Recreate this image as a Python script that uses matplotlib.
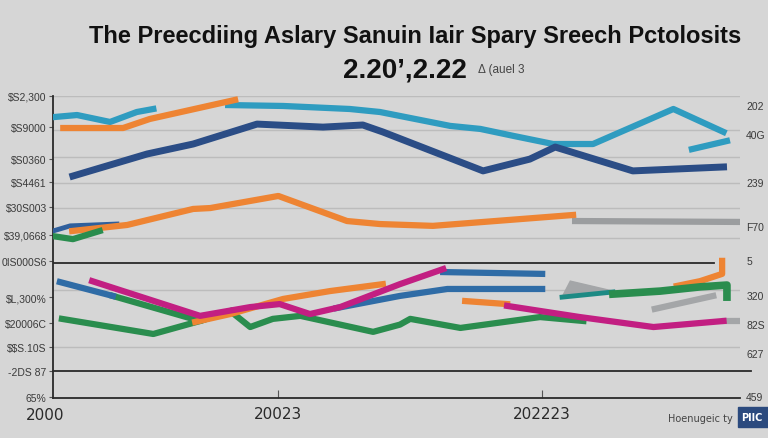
import matplotlib.pyplot as plt
from matplotlib.patches import Rectangle
import numpy as np

plt.rcParams['text.parse_math'] = False

nan = np.nan

# series values (0-100 scale)
navy_x = [2.9, 13.7, 20.4, 29.7, 39.3, 45.1, 48.0, 62.6, 69.4, 73.1, 84.4, 97.6]
navy_y = [73.5, 80.8, 84.1, 90.7, 89.7, 90.4, 88.1, 75.2, 79.1, 83.1, 75.2, 76.5]

teal_x = [0, 3.5, 8.3, 12.2, 14.6, nan, 25.5, 33.5, 43.2, 47.6, 57.8, 62.2, 67.0, 72.8, 78.6, 90.3, 97.6, nan, 93.0, 98.1]
teal_y = [93.0, 93.7, 91.4, 94.7, 95.7, nan, 97.0, 96.7, 95.7, 94.7, 90.1, 89.1, 86.8, 84.1, 84.1, 95.7, 88.1, nan, 82.4, 85.1]

orange_top_x = [1.5, 10.2, 14.1, 26.5]
orange_top_y = [89.4, 89.4, 92.4, 98.7]

orange_mid_x = [2.8, 10.8, 20.4, 22.9, 32.8, 42.8, 47.6, 55.3, 75.7]
orange_mid_y = [55.3, 57.3, 62.6, 62.9, 66.9, 58.6, 57.6, 57.0, 60.6]

grey_mid_x = [76.0, 99.6]
grey_mid_y = [58.6, 58.3]

green_small_x = [0, 2.9, 6.8]
green_small_y = [53.6, 52.6, 55.3]
blue_small_x = [0, 2.5, 9.3]
blue_small_y = [55.3, 57.0, 57.6]

magenta_x = [5.7, 21.4, 28.7, 33.0, 37.4, 41.8, 50.5, 56.8, nan, 66.1, 76.7, 87.4, 97.6]
magenta_y = [38.7, 27.2, 30.1, 31.1, 27.8, 30.1, 37.7, 42.7, nan, 30.5, 26.8, 23.5, 25.5]

blue_up_x = [56.8, 71.2]
blue_up_y = [41.7, 41.1]
blue_low_x = [1.0, 8.7, nan, 41.3, 50.5, 57.4, 71.2]
blue_low_y = [38.4, 33.8, nan, 29.8, 33.8, 36.1, 36.1]

orange_low_x = [20.7, 25.8, 33.5, 40.3, 48.0, nan, 60.0, 66.1]
orange_low_y = [25.2, 27.8, 32.8, 35.4, 37.7, nan, 32.1, 31.1]

green_low_x = [1.3, 14.6, 21.4, 25.8, 28.7, 32.0, 36.0, 46.6, 50.5, 52.0, 59.3, 70.9, 77.2]
green_low_y = [26.2, 21.2, 25.5, 28.8, 23.5, 26.2, 27.2, 21.9, 24.3, 26.2, 23.2, 26.8, 25.5]
green_diag_x = [8.7, 21.4, 25.8]
green_diag_y = [33.8, 25.5, 28.8]

green_right_x = [81.5, 88.4, 94.2, 98.1, 98.1]
green_right_y = [34.4, 35.4, 36.8, 37.4, 33.4]
orange_right_x = [90.8, 94.2, 97.4, 97.4]
orange_right_y = [37.1, 38.7, 41.1, 45.4]
grey_right_x = [87.6, 96.1, nan, 97.8, 99.6]
grey_right_y = [29.5, 33.8, nan, 25.5, 25.5]
tealdark_x = [74.1, 81.5]
tealdark_y = [33.4, 35.1]
grey_tri_x = [74.1, 75.3, 81.5]
grey_tri_y = [33.4, 38.7, 35.4]

grid_y = [100, 88.7, 79.8, 71.2, 62.9, 53.0, 35.8, 16.9]
left_pos = [100, 89.7, 79.1, 71.5, 63.2, 54.0, 45.4, 33.4, 24.8, 16.9, 8.9, 0.3]
left_labels = ["$S2,300", "$S9000", "$S0360", "$S4461", "$30S003", "$39,0668",
               "0IS000S6", "$L,300%", "$20006C", "$$S.10S", "-2DS 87", "65%"]
right_pos = [96.7, 87.1, 71.2, 56.6, 45.4, 33.8, 24.2, 14.6, 0.3]
right_labels = ["202", "40G", "239", "F70", "5", "320", "82S", "627", "459"]
x_pos = [32.8, 71.2]
x_labels = ["20023", "202223"]

bg = '#d6d6d6'
fig = plt.figure(figsize=(7.68, 4.39), dpi=100, facecolor=bg)
ax = fig.add_axes([53/768, 40/439, 687/768, 302/439], facecolor=bg)
ax.set_xlim(0, 100)
ax.set_ylim(0, 100)

for g in grid_y:
    ax.axhline(g, color='#bcbcbc', lw=1, zorder=1)
ax.plot([0, 96.2], [44.7, 44.7], color='#2a2a2a', lw=1.3, zorder=2)
ax.plot([0, 101.6], [8.9, 8.9], color='#2a2a2a', lw=1.3, zorder=2, clip_on=False)

lw = 4.5
ax.fill(grey_tri_x, grey_tri_y, color='#a4a6a8', zorder=3)
ax.plot(grey_mid_x, grey_mid_y, color='#9b9d9f', lw=lw, zorder=3)
ax.plot(grey_right_x, grey_right_y, color='#a4a6a8', lw=lw, zorder=3)
ax.plot(teal_x, teal_y, color='#2f9cc0', lw=lw, zorder=4)
ax.plot(navy_x, navy_y, color='#2b4d86', lw=lw + 0.5, zorder=4)
ax.plot(orange_top_x, orange_top_y, color='#ee8433', lw=lw, zorder=5)
ax.plot(orange_mid_x, orange_mid_y, color='#ee8433', lw=lw, zorder=4)
ax.plot(green_small_x, green_small_y, color='#2a8d4e', lw=lw, zorder=4)
ax.plot(blue_small_x, blue_small_y, color='#2f5f9c', lw=lw - 1, zorder=3)
ax.plot(green_low_x, green_low_y, color='#2a8d4e', lw=lw, zorder=4)
ax.plot(green_diag_x, green_diag_y, color='#2a8d4e', lw=lw, zorder=4)
ax.plot(blue_low_x, blue_low_y, color='#2f6ca6', lw=lw, zorder=5)
ax.plot(blue_up_x, blue_up_y, color='#2f6ca6', lw=lw, zorder=5)
ax.plot(orange_low_x, orange_low_y, color='#ee8433', lw=lw, zorder=5)
ax.plot(magenta_x, magenta_y, color='#c21f82', lw=lw, zorder=6)
ax.plot(tealdark_x, tealdark_y, color='#1d8a84', lw=lw - 1, zorder=5)
ax.plot(orange_right_x, orange_right_y, color='#ee8433', lw=lw, zorder=5)
ax.plot(green_right_x, green_right_y, color='#2a8d4e', lw=lw + 1, zorder=6)

for s in ['top', 'right']:
    ax.spines[s].set_visible(False)
ax.spines['left'].set_color('#2a2a2a')
ax.spines['bottom'].set_color('#2a2a2a')
ax.spines['left'].set_linewidth(1.3)
ax.spines['bottom'].set_linewidth(1.3)

ax.set_yticks(left_pos)
ax.set_yticklabels(left_labels, fontsize=7.5, color='#3a3a3a', family='Liberation Sans')
ax.tick_params(axis='y', length=3, color='#555555', pad=1.5)
ax.set_xticks(x_pos)
ax.set_xticklabels(x_labels, fontsize=11, color='#2a2a2a')
ax.tick_params(axis='x', direction='in', length=6, color='#555555', pad=6)
ax.text(-1.2, -0.03, "2000", transform=ax.get_xaxis_transform(), fontsize=11,
        color='#2a2a2a', ha='center', va='top')

for p, lab in zip(right_pos, right_labels):
    ax.text(1.009, p, lab, transform=ax.get_yaxis_transform(), fontsize=7.5,
            color='#3a3a3a', ha='left', va='center', family='Liberation Sans')

fig.text(415/768, 1 - 37/439, "The Preecdiing Aslary Sanuin Iair Spary Sreech Pctolosits",
         fontsize=17, fontweight='bold', ha='center', va='center', color='#111111',
         family=['Liberation Sans'])
fig.text(405/768, 1 - 70/439, "2.20\u2019,2.22", fontsize=20, fontweight='bold',
         ha='center', va='center', color='#111111', family=['Liberation Sans'])
fig.text(478/768, 1 - 70/439, "\u0394 (auel 3", fontsize=8.5, ha='left', va='center',
         color='#444444', family=['Liberation Sans'])

fig.text(700/768, 1 - 419/439, "Hoenugeic ty", fontsize=7, ha='center', va='center',
         color='#444444')
fig.patches.append(Rectangle((738/768, 1 - 428/439), 30/768, 20/439,
                             transform=fig.transFigure, color='#2b4a7e'))
fig.text(752/768, 1 - 418/439, "PIIC", fontsize=7, fontweight='bold', ha='center',
         va='center', color='white')

fig.savefig('out.png', dpi=100, facecolor=bg)
